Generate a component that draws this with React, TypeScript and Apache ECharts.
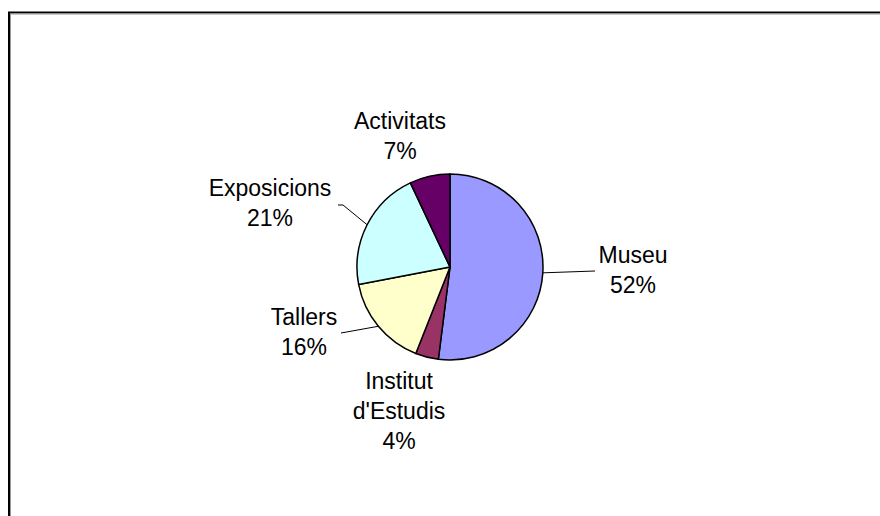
import React, { useEffect, useRef } from "react";
import * as echarts from "echarts";

const categories = ["Museu", "Institut\nd'Estudis", "Tallers", "Exposicions", "Activitats"];
const values = [52, 4, 16, 21, 7];
const colors = ["#9999FF", "#993366", "#FFFFCC", "#CCFFFF", "#660066"];

// layout only (label block centres and leader-line ends)
const CENTER = [450, 267];
const RADIUS = 93;
const labelPos: [number, number][] = [
  [633, 270],
  [399, 411],
  [304, 332],
  [270, 203],
  [400, 136],
];
const lineEnd: ([number, number][] | null)[] = [
  [[595, 271]],
  null,
  [[341, 333]],
  [[343, 205], [338, 205]],
  null,
];

export default function App() {
  const ref = useRef<HTMLDivElement>(null);
  useEffect(() => {
    if (!ref.current) return;
    const chart = echarts.init(ref.current, null, { renderer: "svg" });
    const total = values.reduce((a, b) => a + b, 0);
    const mids: number[] = [];
    let acc = 0;
    values.forEach((v) => {
      mids.push(((acc + v / 2) / total) * Math.PI * 2);
      acc += v;
    });
    chart.setOption({
      animation: false,
      graphic: [
        {
          type: "rect",
          shape: { x: 9, y: 12.5, width: 1000, height: 1000 },
          style: { fill: "none", stroke: "#000", lineWidth: 2 },
          silent: true,
        },
        {
          type: "rect",
          shape: { x: 10.5, y: 14, width: 1000, height: 1000 },
          style: { fill: "none", stroke: "#9a9a9a", lineWidth: 1 },
          silent: true,
        },
      ],
      series: [
        {
          type: "pie",
          center: CENTER,
          radius: RADIUS,
          startAngle: 90,
          clockwise: true,
          data: categories.map((c, i) => ({
            name: c,
            value: values[i],
            itemStyle: { color: colors[i] },
            labelLine: { show: lineEnd[i] != null },
          })),
          itemStyle: { borderColor: "#000", borderWidth: 1.5 },
          label: {
            show: true,
            formatter: "{b}\n{d}%",
            fontFamily: "'Liberation Sans', Arial, sans-serif",
            fontSize: 23,
            lineHeight: 30,
            color: "#000",
            align: "center",
          },
          labelLine: {
            show: true,
            lineStyle: { color: "#000", width: 1 },
          },
          labelLayout: (params: any) => {
            const i = params.dataIndex;
            const a = mids[i];
            const sx = CENTER[0] + RADIUS * Math.sin(a);
            const sy = CENTER[1] - RADIUS * Math.cos(a);
            const res: any = {
              x: labelPos[i][0],
              y: labelPos[i][1],
              align: "center",
              verticalAlign: "middle",
              hideOverlap: false,
            };
            if (lineEnd[i]) {
              res.labelLinePoints = [[sx, sy], ...(lineEnd[i] as any)];
            }
            return res;
          },
        },
      ],
    });
    return () => chart.dispose();
  }, []);
  return (
    <div
      ref={ref}
      style={{ position: "absolute", left: 0, top: 0, width: 880, height: 516, background: "#fff" }}
    />
  );
}
